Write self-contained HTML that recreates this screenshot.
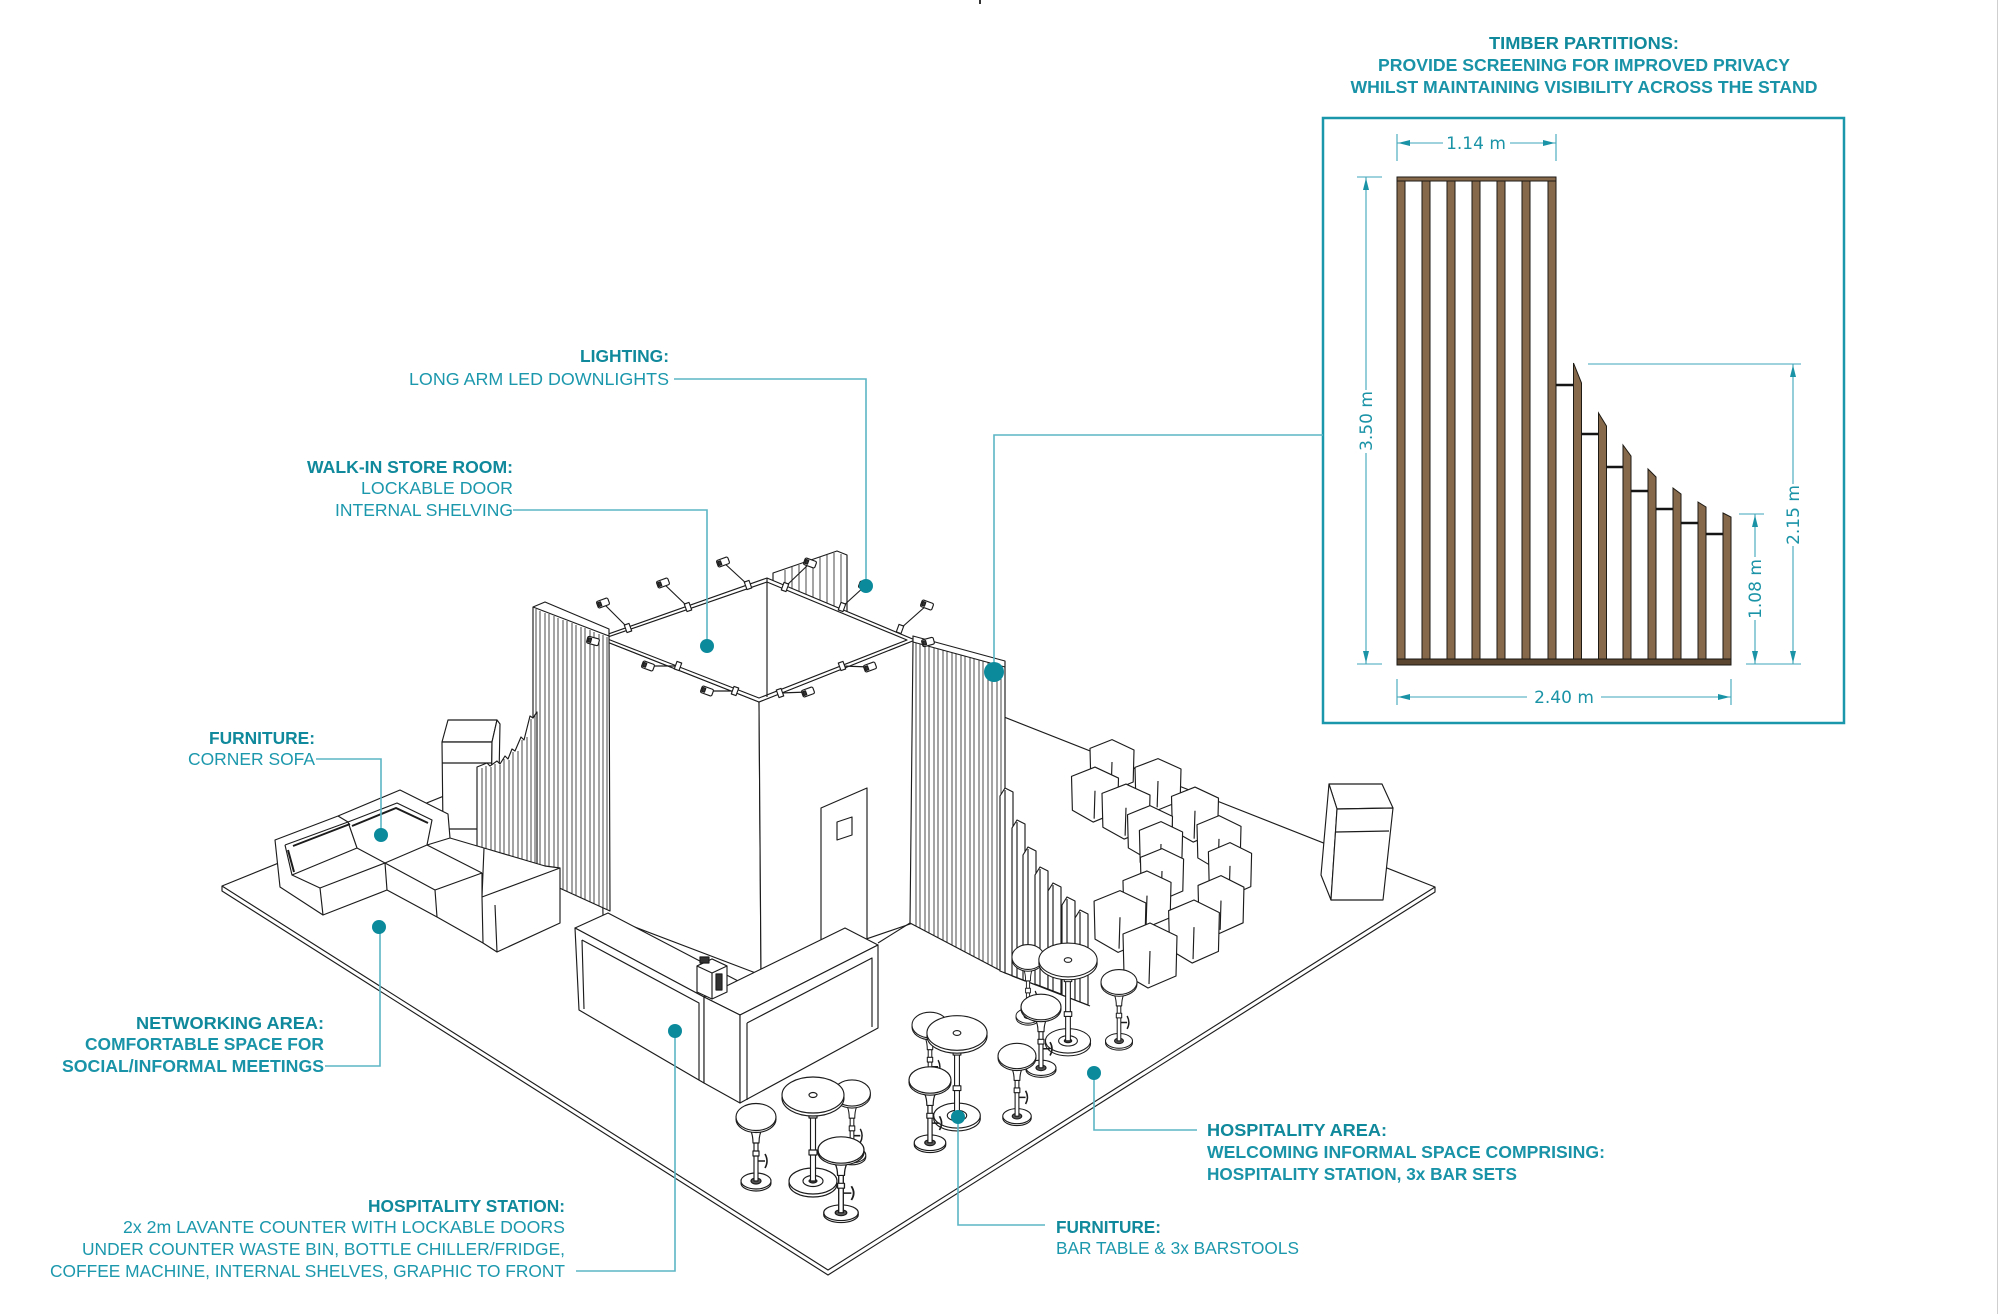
<!DOCTYPE html>
<html><head><meta charset="utf-8">
<style>
html,body{margin:0;padding:0;background:#fff;}
svg{display:block;}
.t{font-family:"Liberation Sans",Arial,sans-serif;font-size:17.5px;}
.h{font-weight:bold;fill:#0f899b;}
.r{fill:#1c98ad;}
.s{font-weight:bold;fill:#1993a7;}
.d{font-family:"DejaVu Sans",sans-serif;font-size:17px;fill:#1a93a7;}
</style></head><body>
<svg width="2000" height="1314" viewBox="0 0 2000 1314" xmlns="http://www.w3.org/2000/svg" xmlns:xlink="http://www.w3.org/1999/xlink">
<defs>
 <g id="stool">
  <ellipse cx="0" cy="66" rx="15" ry="8" fill="#fff" stroke="#1c1c1c"/>
  <ellipse cx="0" cy="64" rx="15" ry="8" fill="#fff" stroke="#1c1c1c"/>
  <ellipse cx="0" cy="64" rx="5" ry="3" fill="#555" stroke="#1c1c1c"/>
  <rect x="-2" y="24" width="4" height="40" fill="#fff" stroke="#1c1c1c"/>
  <rect x="-3" y="34" width="6" height="5" fill="#fff" stroke="#1c1c1c"/>
  <path d="M2,44 H9 M9,37 Q13,44 9,51" fill="none" stroke="#1c1c1c" stroke-width="1.6"/>
  <path d="M-11,7 Q-3,12 -3,26 H3 Q3,12 11,7 Z" fill="#fff" stroke="#1c1c1c"/>
  <ellipse cx="0" cy="2" rx="20" ry="13.5" fill="#fff" stroke="#1c1c1c"/>
  <ellipse cx="0" cy="0" rx="20" ry="13.5" fill="#fff" stroke="#1c1c1c"/>
 </g>
 <g id="table">
  <ellipse cx="0" cy="89" rx="24" ry="13" fill="#fff" stroke="#1c1c1c"/>
  <ellipse cx="0" cy="86" rx="24" ry="13" fill="#fff" stroke="#1c1c1c"/>
  <ellipse cx="0" cy="86" rx="10" ry="5.5" fill="#fff" stroke="#1c1c1c"/>
  <ellipse cx="0" cy="86" rx="4" ry="2" fill="#444" stroke="#1c1c1c"/>
  <rect x="-2.5" y="16" width="5" height="70" fill="#fff" stroke="#1c1c1c"/>
  <rect x="-4" y="18" width="8" height="5" fill="#fff" stroke="#1c1c1c"/>
  <rect x="-4" y="55" width="8" height="5" fill="#fff" stroke="#1c1c1c"/>
  <ellipse cx="0" cy="3" rx="31" ry="18" fill="#fff" stroke="#1c1c1c"/>
  <ellipse cx="0" cy="0" rx="31" ry="18" fill="#fff" stroke="#1c1c1c"/>
  <ellipse cx="0" cy="0" rx="4" ry="2.5" fill="#fff" stroke="#1c1c1c"/>
 </g>
 <g id="cube">
  <polygon points="-27,-22 0,-33 27,-20 26,20 -2,32 -26,18" fill="#fff" stroke="#1c1c1c" vector-effect="non-scaling-stroke"/>
  <line x1="0" y1="-5" x2="-1" y2="28" stroke="#1c1c1c" vector-effect="non-scaling-stroke"/>
 </g>
 <g id="lamp"><rect x="-6" y="-3.5" width="12" height="7" rx="1.5" fill="#fff" stroke="#1c1c1c"/><rect x="-5" y="-2" width="3" height="4" fill="#333"/></g>
 <g id="clamp"><rect x="-2.5" y="-4" width="5" height="8" fill="#fff" stroke="#1c1c1c"/></g>
</defs>

<line x1="1997.5" y1="0" x2="1997.5" y2="1314" stroke="#cfcfcf" stroke-width="1"/>
<line x1="980" y1="0" x2="980" y2="4" stroke="#333" stroke-width="2"/>

<!-- ================= TIMBER PANEL ================= -->
<text class="t h" x="1584" y="49" text-anchor="middle" textLength="190" lengthAdjust="spacingAndGlyphs">TIMBER PARTITIONS:</text>
<text class="t s" x="1584" y="71" text-anchor="middle" textLength="412" lengthAdjust="spacingAndGlyphs">PROVIDE SCREENING FOR IMPROVED PRIVACY</text>
<text class="t s" x="1584" y="93" text-anchor="middle" textLength="467" lengthAdjust="spacingAndGlyphs">WHILST MAINTAINING VISIBILITY ACROSS THE STAND</text>
<rect x="1323" y="118" width="521" height="605" fill="none" stroke="#1a97ab" stroke-width="2.5"/>

<g fill="#85694a" stroke="#1e1a14" stroke-width="1">
 <rect x="1397" y="177" width="159" height="4"/>
 <rect x="1397" y="181" width="8" height="479"/>
 <rect x="1422" y="181" width="8" height="479"/>
 <rect x="1447" y="181" width="8" height="479"/>
 <rect x="1472" y="181" width="8" height="479"/>
 <rect x="1497" y="181" width="8" height="479"/>
 <rect x="1522" y="181" width="8" height="479"/>
 <rect x="1548" y="181" width="8" height="479"/>
 <polygon points="1573.5,363 1581.5,383 1581.5,660 1573.5,660"/>
 <polygon points="1598.5,413 1606.5,426 1606.5,660 1598.5,660"/>
 <polygon points="1623,445 1631,456 1631,660 1623,660"/>
 <polygon points="1648,469 1656,477 1656,660 1648,660"/>
 <polygon points="1673,488 1681,494 1681,660 1673,660"/>
 <polygon points="1698,502 1706,507 1706,660 1698,660"/>
 <polygon points="1723,513 1731,517 1731,660 1723,660"/>
 <rect x="1397" y="659" width="334" height="6" fill="#5a4630"/>
</g>
<g stroke="#151515" stroke-width="2.6">
 <line x1="1556" y1="385" x2="1573.5" y2="385"/>
 <line x1="1581.5" y1="434" x2="1598.5" y2="434"/>
 <line x1="1606.5" y1="467" x2="1623" y2="467"/>
 <line x1="1631" y1="491" x2="1648" y2="491"/>
 <line x1="1656" y1="509" x2="1673" y2="509"/>
 <line x1="1681" y1="523" x2="1698" y2="523"/>
 <line x1="1706" y1="534" x2="1723" y2="534"/>
</g>

<g stroke="#3ea6b8" stroke-width="1.1" fill="none">
 <path d="M1397,134V161M1556,134V161M1397,143H1443M1510,143H1556"/>
 <path d="M1357,177H1382M1357,664H1382M1366,177V390M1366,453V664"/>
 <path d="M1588,364H1801M1746,664H1801M1793,364V484M1793,546V664"/>
 <path d="M1739,514H1764M1755,514V557M1755,620V664"/>
 <path d="M1397,679V705M1731,679V705M1397,697H1527M1601,697H1731"/>
</g>
<g fill="#1a93a7">
 <polygon points="1398,143 1410,140 1410,146"/>
 <polygon points="1555,143 1543,140 1543,146"/>
 <polygon points="1366,178 1363,190 1369,190"/>
 <polygon points="1366,663 1363,651 1369,651"/>
 <polygon points="1793,365 1790,377 1796,377"/>
 <polygon points="1793,663 1790,651 1796,651"/>
 <polygon points="1755,515 1752,527 1758,527"/>
 <polygon points="1755,663 1752,651 1758,651"/>
 <polygon points="1398,697 1410,694 1410,700"/>
 <polygon points="1730,697 1718,694 1718,700"/>
</g>
<text class="d" x="1476" y="149" text-anchor="middle">1.14 m</text>
<text class="d" x="1564" y="703" text-anchor="middle">2.40 m</text>
<text class="d" x="1366" y="427" text-anchor="middle" transform="rotate(-90 1366 421)">3.50 m</text>
<text class="d" x="1793" y="521" text-anchor="middle" transform="rotate(-90 1793 515)">2.15 m</text>
<text class="d" x="1755" y="595" text-anchor="middle" transform="rotate(-90 1755 589)">1.08 m</text>

<!-- ================= STAND DRAWING ================= -->
<g fill="#fff" stroke="#1c1c1c" stroke-width="1.15" stroke-linejoin="round">
 <polygon points="222,886 819,644 1435,887 828,1270"/>
 <path d="M222,886V891L828,1275L1435,892V887" fill="none"/>

 <polygon points="773,573 837,551 847,555 847,612 773,612"/>
 <path d="M785,570V612M792,567V612M799,565V612M806,562V612M813,560V612M820,557V612M827,555V612M834,553V612M841,554V612" fill="none" stroke-width="0.8"/>

 <polygon points="597,638 759,702 761,975 603,915"/>
 <polygon points="759,702 915,640 913,923 761,975"/>
 <polygon points="597,638 767,578 915,640 759,702"/>
 <line x1="767" y1="578" x2="767" y2="697"/>
 <polygon points="605,638 767,582 907,640 759,698" fill="none"/>
 <polygon points="821,808 867,788 867,940 821,945"/>
 <polygon points="837,822 852,817 852,835 837,840"/>

 <polygon points="448,720 497,720 492,742 442,742"/>
 <polygon points="442,742 492,742 491,829 443,829"/>
 <polygon points="497,720 500,724 498,830 491,829 492,742"/>
 <line x1="442" y1="763" x2="492" y2="763"/>

 <polygon points="533,607 545,602 609,629 610,911 533,876"/>
 <line x1="533" y1="607" x2="609" y2="636"/>
 <path d="M536,609V880M540,611V880M545,613V880M549,614V880M554,616V880M558,618V881M563,620V889M567,621V891M572,623V893M576,625V895M581,627V898M585,628V900M590,630V902M594,632V904M599,634V906M603,635V908M607,637V910" fill="none" stroke-width="0.8"/>

 <polygon points="477,767 487,763 490,766 497,761 500,764 505,756 508,759 512,749 515,751 521,737 524,740 530,716 533,718 537,712 537,877 477,846"/>
 <path d="M482,768V849M486,766V851M491,767V853M495,764V855M500,765V858M504,759V860M509,760V862M513,752V864M518,751V867M522,740V869M527,737V871M531,719V873M535,714V875" fill="none" stroke-width="0.8"/>

 <polygon points="275,840 338,816 400,790 448,814 450,838 484,848 545,866 560,868 560,923 497,952 483,943 437,917 387,890 323,915 280,887"/>
 <path d="M285,845L348,822M285,845L292,875L357,848M338,816L348,822L357,848M292,875L320,888L385,863L357,848M320,888L323,915M348,822L397,803L432,820L427,845M385,863L427,845L450,838M385,863L387,890M385,863L435,890L437,917M435,890L482,873M427,845L482,873M484,848L482,897L560,868M482,897L483,943M482,873L482,897" fill="none"/>
 <path d="M288,850L294,872M293,846L350,824" fill="none" stroke-width="2"/>
 <path d="M352,826L396,808L428,823" fill="none" stroke-width="2"/>
 <path d="M497,952L495,905" fill="none"/>

 <polygon points="913,642 913,636 1005,661 1005,973 910,923"/>
 <line x1="913" y1="642" x2="1005" y2="667"/>
 <path d="M916,643V926M920,644V928M925,645V931M929,646V933M934,648V936M938,649V938M943,650V940M947,651V942M952,653V945M956,654V947M961,655V950M965,656V952M970,658V955M974,659V957M979,660V959M983,661V961M988,662V964M992,663V966M997,665V969M1001,666V971" fill="none" stroke-width="0.8"/>

 <polygon points="1000,796 1005,788 1013,792 1013,976 1000,971"/><line x1="1005" y1="790" x2="1005" y2="973"/>
 <polygon points="1012,828 1017,820 1025,824 1025,981 1012,976"/><line x1="1017" y1="822" x2="1017" y2="978"/>
 <polygon points="1023,855 1028,847 1036,851 1036,985 1023,980"/><line x1="1028" y1="849" x2="1028" y2="982"/>
 <polygon points="1035,875 1040,867 1048,871 1048,989 1035,984"/><line x1="1040" y1="869" x2="1040" y2="986"/>
 <polygon points="1048,891 1053,883 1061,887 1061,994 1048,989"/><line x1="1053" y1="885" x2="1053" y2="991"/>
 <polygon points="1062,905 1067,897 1075,901 1075,1000 1062,995"/><line x1="1067" y1="899" x2="1067" y2="997"/>
 <polygon points="1075,918 1080,910 1088,914 1088,1005 1075,1000"/><line x1="1080" y1="912" x2="1080" y2="1002"/>
 <line x1="1005" y1="973" x2="1090" y2="1006"/>

 <line x1="878" y1="943" x2="910" y2="923"/>
 <polygon points="575,928 608,913 740,982 704,997"/>
 <polygon points="575,928 704,997 704,1083 579,1010"/>
 <path d="M582,940L699,1003L699,1080M582,940L584,1009" fill="none"/>
 <polygon points="704,997 845,928 878,945 740,1015"/>
 <polygon points="704,997 740,1015 740,1103 704,1083"/>
 <polygon points="740,1015 878,945 878,1028 740,1103"/>
 <path d="M747,1023L872,958L872,1027M747,1023L747,1100" fill="none"/>
 <polygon points="697,966 712,959 727,966 727,992 712,999 697,992"/>
 <line x1="712" y1="972" x2="712" y2="999"/>
 <polygon points="697,966 712,959 727,966 712,973"/>
 <rect x="716" y="974" width="6" height="16" fill="#333"/>
 <rect x="700" y="957" width="9" height="6" fill="#333"/>

 <use xlink:href="#cube" transform="translate(1112,766) scale(0.815,0.8)"/>
 <use xlink:href="#cube" transform="translate(1158,785) scale(0.852,0.8)"/>
 <use xlink:href="#cube" transform="translate(1095,795) scale(0.87,0.846)"/>
 <use xlink:href="#cube" transform="translate(1126,812) scale(0.889,0.846)"/>
 <use xlink:href="#cube" transform="translate(1195,815) scale(0.87,0.846)"/>
 <use xlink:href="#cube" transform="translate(1150,833) scale(0.833,0.83)"/>
 <use xlink:href="#cube" transform="translate(1219,843) scale(0.815,0.83)"/>
 <use xlink:href="#cube" transform="translate(1161,848) scale(0.8,0.8)"/>
 <use xlink:href="#cube" transform="translate(1230,870) scale(0.8,0.83)"/>
 <use xlink:href="#cube" transform="translate(1162,875) scale(0.8,0.8)"/>
 <use xlink:href="#cube" transform="translate(1147,900) scale(0.89,0.88)"/>
 <use xlink:href="#cube" transform="translate(1221,905) scale(0.85,0.89)"/>
 <use xlink:href="#cube" transform="translate(1120,922) scale(0.96,0.95)"/>
 <use xlink:href="#cube" transform="translate(1194,932) scale(0.94,0.97)"/>
 <use xlink:href="#cube" transform="translate(1150,956) scale(1,1)"/>

 <polygon points="1329,784 1382,784 1393,808 1337,809"/>
 <polygon points="1329,784 1337,809 1331,900 1321,875"/>
 <polygon points="1337,809 1393,808 1383,900 1331,900"/>
 <line x1="1336" y1="832" x2="1389" y2="831"/>

 <g>
  <line x1="628" y1="628" x2="603" y2="603"/><use xlink:href="#lamp" transform="translate(603,603) rotate(-20)"/><use xlink:href="#clamp" transform="translate(628,628) rotate(-20)"/>
  <line x1="688" y1="607" x2="663" y2="583"/><use xlink:href="#lamp" transform="translate(663,583) rotate(-20)"/><use xlink:href="#clamp" transform="translate(688,607) rotate(-20)"/>
  <line x1="748" y1="585" x2="723" y2="562"/><use xlink:href="#lamp" transform="translate(723,562) rotate(-20)"/><use xlink:href="#clamp" transform="translate(748,585) rotate(-20)"/>
  <line x1="785" y1="587" x2="810" y2="563"/><use xlink:href="#lamp" transform="translate(810,563) rotate(20)"/><use xlink:href="#clamp" transform="translate(785,587) rotate(20)"/>
  <line x1="842" y1="607" x2="865" y2="586"/><use xlink:href="#lamp" transform="translate(865,586) rotate(20)"/><use xlink:href="#clamp" transform="translate(842,607) rotate(20)"/>
  <line x1="900" y1="629" x2="927" y2="605"/><use xlink:href="#lamp" transform="translate(927,605) rotate(20)"/><use xlink:href="#clamp" transform="translate(900,629) rotate(20)"/>
  <line x1="678" y1="666" x2="648" y2="666"/><use xlink:href="#lamp" transform="translate(648,666) rotate(20)"/><use xlink:href="#clamp" transform="translate(678,666) rotate(20)"/>
  <line x1="735" y1="691" x2="707" y2="691"/><use xlink:href="#lamp" transform="translate(707,691) rotate(20)"/><use xlink:href="#clamp" transform="translate(735,691) rotate(20)"/>
  <use xlink:href="#lamp" transform="translate(593,641) rotate(15)"/>
  <line x1="780" y1="693" x2="808" y2="692"/><use xlink:href="#lamp" transform="translate(808,692) rotate(-20)"/><use xlink:href="#clamp" transform="translate(780,693) rotate(-20)"/>
  <line x1="842" y1="666" x2="870" y2="667"/><use xlink:href="#lamp" transform="translate(870,667) rotate(-20)"/><use xlink:href="#clamp" transform="translate(842,666) rotate(-20)"/>
  <use xlink:href="#lamp" transform="translate(928,642) rotate(-15)"/>
 </g>

 <use xlink:href="#stool" transform="translate(1028,957) scale(0.8,0.92)"/>
 <use xlink:href="#table" transform="translate(1068,960) scale(0.94)"/>
 <use xlink:href="#stool" transform="translate(1119,982) scale(0.9,0.92)"/>
 <use xlink:href="#stool" transform="translate(1041,1007) scale(1.0,0.95)"/>
 <use xlink:href="#stool" transform="translate(930,1025) scale(0.9,0.95)"/>
 <use xlink:href="#table" transform="translate(957,1033) scale(0.97,0.96)"/>
 <use xlink:href="#stool" transform="translate(1017,1056) scale(0.95,0.94)"/>
 <use xlink:href="#stool" transform="translate(930,1080) scale(1.05,0.98)"/>
 <use xlink:href="#stool" transform="translate(852,1093) scale(0.92,0.97)"/>
 <use xlink:href="#table" transform="translate(813,1095) scale(1,1)"/>
 <use xlink:href="#stool" transform="translate(756,1117) scale(1,1)"/>
 <use xlink:href="#stool" transform="translate(841,1150) scale(1.15,0.98)"/>
</g>

<g fill="none" stroke="#5cb5c5" stroke-width="1.6">
 <path d="M674,379H866V586"/>
 <path d="M513,510H707V646"/>
 <path d="M1323,435H994V672"/>
 <path d="M316,759H381V835"/>
 <path d="M325,1066H380V927"/>
 <path d="M576,1271H675V1031"/>
 <path d="M1094,1073V1130H1197"/>
 <path d="M958,1117V1225H1045"/>
</g>
<g fill="#0b8a9c">
 <circle cx="866" cy="586" r="7"/>
 <circle cx="707" cy="646" r="7"/>
 <circle cx="994" cy="672" r="10"/>
 <circle cx="381" cy="835" r="7"/>
 <circle cx="379" cy="927" r="7"/>
 <circle cx="675" cy="1031" r="7"/>
 <circle cx="1094" cy="1073" r="7"/>
 <circle cx="958" cy="1117" r="7"/>
</g>

<text class="t h" x="669" y="362" text-anchor="end" textLength="89" lengthAdjust="spacingAndGlyphs">LIGHTING:</text>
<text class="t r" x="669" y="385" text-anchor="end" textLength="260" lengthAdjust="spacingAndGlyphs">LONG ARM LED DOWNLIGHTS</text>

<text class="t h" x="513" y="473" text-anchor="end" textLength="206" lengthAdjust="spacingAndGlyphs">WALK-IN STORE ROOM:</text>
<text class="t r" x="513" y="494" text-anchor="end" textLength="152" lengthAdjust="spacingAndGlyphs">LOCKABLE DOOR</text>
<text class="t r" x="513" y="516" text-anchor="end" textLength="178" lengthAdjust="spacingAndGlyphs">INTERNAL SHELVING</text>

<text class="t h" x="315" y="744" text-anchor="end" textLength="106" lengthAdjust="spacingAndGlyphs">FURNITURE:</text>
<text class="t r" x="315" y="765" text-anchor="end" textLength="127" lengthAdjust="spacingAndGlyphs">CORNER SOFA</text>

<text class="t h" x="324" y="1029" text-anchor="end" textLength="188" lengthAdjust="spacingAndGlyphs">NETWORKING AREA:</text>
<text class="t s" x="324" y="1050" text-anchor="end" textLength="239" lengthAdjust="spacingAndGlyphs">COMFORTABLE SPACE FOR</text>
<text class="t s" x="324" y="1072" text-anchor="end" textLength="262" lengthAdjust="spacingAndGlyphs">SOCIAL/INFORMAL MEETINGS</text>

<text class="t h" x="565" y="1212" text-anchor="end" textLength="197" lengthAdjust="spacingAndGlyphs">HOSPITALITY STATION:</text>
<text class="t r" x="565" y="1233" text-anchor="end" textLength="442" lengthAdjust="spacingAndGlyphs">2x 2m LAVANTE COUNTER WITH LOCKABLE DOORS</text>
<text class="t r" x="565" y="1255" text-anchor="end" textLength="483" lengthAdjust="spacingAndGlyphs">UNDER COUNTER WASTE BIN, BOTTLE CHILLER/FRIDGE,</text>
<text class="t r" x="565" y="1277" text-anchor="end" textLength="515" lengthAdjust="spacingAndGlyphs">COFFEE MACHINE, INTERNAL SHELVES, GRAPHIC TO FRONT</text>

<text class="t h" x="1207" y="1136" textLength="180" lengthAdjust="spacingAndGlyphs">HOSPITALITY AREA:</text>
<text class="t s" x="1207" y="1158" textLength="398" lengthAdjust="spacingAndGlyphs">WELCOMING INFORMAL SPACE COMPRISING:</text>
<text class="t s" x="1207" y="1180" textLength="310" lengthAdjust="spacingAndGlyphs">HOSPITALITY STATION, 3x BAR SETS</text>

<text class="t h" x="1056" y="1233" textLength="105" lengthAdjust="spacingAndGlyphs">FURNITURE:</text>
<text class="t r" x="1056" y="1254" textLength="243" lengthAdjust="spacingAndGlyphs">BAR TABLE &amp; 3x BARSTOOLS</text>
</svg>
</body></html>
